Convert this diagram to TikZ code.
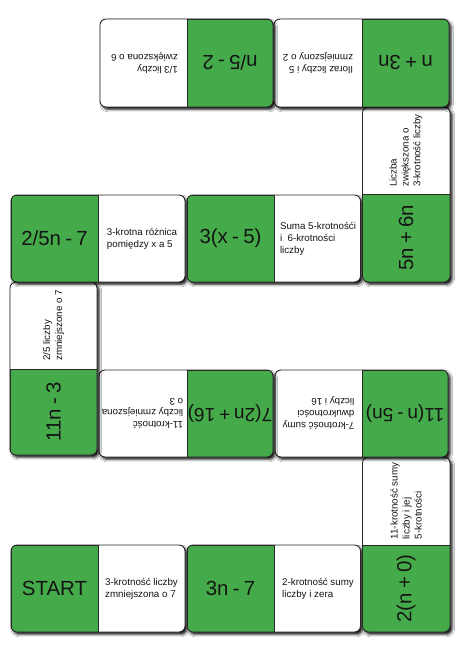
\documentclass[tikz,border=0pt]{standalone}
\usepackage{fontspec}
\setmainfont{Liberation Sans}
\usetikzlibrary{shadows.blur}
\definecolor{dgreen}{RGB}{69,171,74}
\definecolor{bord}{RGB}{40,40,40}
\definecolor{txt}{RGB}{20,20,20}
\newcommand\bigfont{\fontsize{20.5}{24}\selectfont\spaceskip=0.21em\relax}
\newcommand\midfont{\fontsize{19.2}{24}\selectfont\spaceskip=0.2em\relax}
\newcommand\domino[8]{%
  \path[blur shadow={shadow xshift=2.2bp, shadow yshift=-2.4bp, shadow blur radius=2.4bp, shadow opacity=95}, fill=white, rounded corners=6bp] (#1,#2) rectangle (#3,#4);
  \begin{scope}
    \clip[rounded corners=6bp] (#1,#2) rectangle (#3,#4);
    \filldraw[fill=dgreen, draw=bord, line width=0.9bp] (#5,#6) rectangle (#7,#8);
  \end{scope}
  \draw[bord, line width=0.9bp, rounded corners=6bp] (#1,#2) rectangle (#3,#4);
}
\tikzset{
  bigtxt/.style={text=txt, font=\bigfont, inner sep=0pt},
  smalltxt/.style={text=txt, font=\fontsize{9.8}{12}\selectfont, align=left, inner sep=0pt}
}
\begin{document}
\begin{tikzpicture}[x=1bp,y=-1bp]
\useasboundingbox[fill=white] (0,0) rectangle (460,650);
% dominoes
\domino{11}{545}{185}{632}{11}{545}{98}{632}
\domino{187}{545}{360.5}{632}{187}{545}{274}{632}
\domino{362.5}{457}{450}{632}{362.5}{545}{450}{632}
\domino{275}{370}{448}{457}{362}{370}{448}{457}
\domino{99}{370}{273}{457}{187}{370}{273}{457}
\domino{10}{282}{97}{455}{10}{369}{97}{455}
\domino{11}{195}{185}{282}{11}{195}{98}{282}
\domino{187}{195}{360.5}{282}{187}{195}{274}{282}
\domino{362.5}{107}{450}{282}{362.5}{194}{450}{282}
\domino{274}{19}{449}{107}{362}{19}{449}{107}
\domino{100}{19}{273}{107}{187}{19}{273}{107}
% texts: bottom row
\node[bigtxt] (start) at (54.5,588.5) {START};
\node[smalltxt] (t1) at (141.5,588.5) {3-krotność liczby\\zmniejszona o 7};
\node[bigtxt] (e1) at (230.5,588.5) {3n - 7};
\node[smalltxt] (t2) at (318,588.5) {2-krotność sumy\\liczby i zera};
% right vertical bottom
\node[bigtxt, rotate=90] (e2) at (406,588.5) {2(n + 0)};
\node[smalltxt, rotate=90] (t3) at (406,501) {11-krotność sumy\\liczby i jej\\5-krotności};
% second row (upside down)
\node[bigtxt, font=\midfont, rotate=180] (e3) at (405,413.5) {11(n - 5n)};
\node[smalltxt, rotate=180] (t4) at (318.5,413.5) {7-krotność sumy\\dwukrotności\\liczby i 16};
\node[bigtxt, font=\midfont, rotate=180] (e4) at (230,413.5) {7(2n + 16)};
\node[smalltxt, rotate=180] (t5) at (142.5,413.5) {11-krotność\\liczby zmniejszona\\o 3};
% left vertical
\node[bigtxt, rotate=90] (e5) at (53.5,412) {11n - 3};
\node[smalltxt, rotate=90] (t6) at (53.5,325.5) {2/5 liczby\\zmniejszone o 7};
% third row
\node[bigtxt] (e6) at (54.5,238.5) {2/5n - 7};
\node[smalltxt] (t7) at (142,238.5) {3-krotna różnica\\pomiędzy x a 5};
\node[bigtxt] (e7) at (230.5,238.5) {3(x - 5)};
\node[smalltxt] (t8) at (318,238.5) {Suma 5-krotnośći\\i\ \ 6-krotności\\liczby};
% right vertical top
\node[bigtxt, rotate=90] (e8) at (406,238) {5n + 6n};
\node[smalltxt, rotate=90] (t9) at (406,150.5) {Liczba\\zwiększona o\\3-krotność liczby};
% top row (upside down)
\node[bigtxt, rotate=180] (e9) at (405.5,63) {n + 3n};
\node[smalltxt, rotate=180] (t10) at (318,63) {Iloraz liczby i 5\\zmniejszony o 2};
\node[bigtxt, rotate=180] (e10) at (230,63) {n/5 - 2};
\node[smalltxt, rotate=180] (t11) at (144.5,63) {1/3 liczby\\zwiększona o 6};
\end{tikzpicture}
\end{document}
